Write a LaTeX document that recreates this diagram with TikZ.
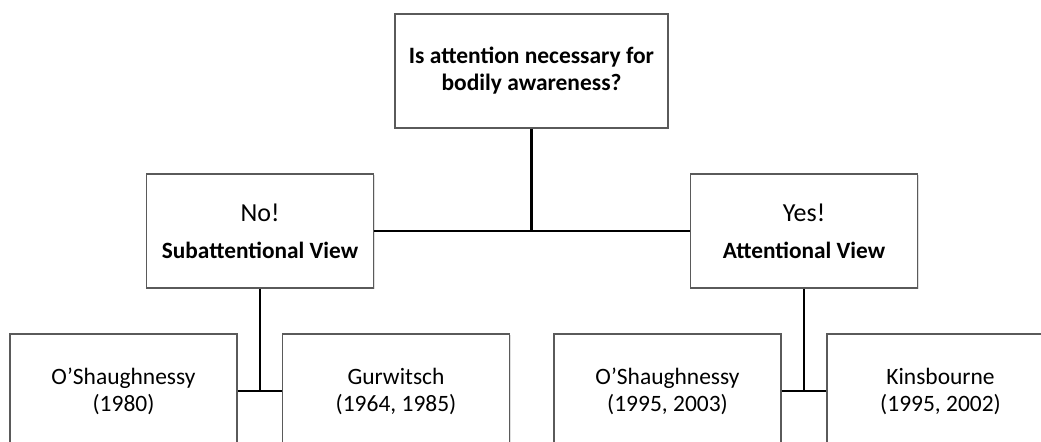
\documentclass[tikz,border=0pt]{standalone}
\usepackage{fontspec}
\setmainfont{Carlito}
\usetikzlibrary{shadows}
\definecolor{boxgray}{HTML}{5A5A5A}
\tikzset{
  box/.style={draw=boxgray, line width=1pt, fill=white, inner sep=0pt,
    minimum width=170.25pt, minimum height=85.5pt, align=center,
    drop shadow={opacity=0.25, shadow xshift=1pt, shadow yshift=-1pt}},
  question/.style={box, minimum width=204.75pt,
    font=\fontsize{17.6}{20.25}\selectfont\bfseries},
  answer/.style={box, font=\fontsize{17.5}{27.75}\selectfont\bfseries},
  source/.style={box, font=\fontsize{17.6}{20.25}\selectfont},
  link/.style={line width=2.2pt}
}
\newcommand{\afont}{\fontsize{19.5}{27.75}\mdseries\selectfont}
\begin{document}
\begin{tikzpicture}[x=0.75pt,y=-0.75pt]
      \useasboundingbox (0,0) rectangle (1041,442);
      \clip (0,0) rectangle (1041,442);
      \draw
        (531.5,71) node[question] (question)
          {Is attention necessary for\\ bodily awareness?}
        (260,231) node[answer] (no)
          {{\afont No!}\\ Subattentional View}
        (804,231) node[answer] (yes)
          {{\afont Yes!}\\ Attentional View}
        (123.5,391) node[source] (oshea)
          {O’Shaughnessy\\ (1980)}
        (396,391) node[source] (gurwitsch)
          {Gurwitsch\\ (1964, 1985)}
        (667.5,391) node[source] (osheb)
          {O’Shaughnessy\\ (1995, 2003)}
        (940.5,391) node[source] (kinsbourne)
          {Kinsbourne\\ (1995, 2002)};
      \begin{scope}[link]
        \draw (no) to (yes);
        \draw (question) to (question |- no);
        \draw (oshea) to (gurwitsch);
        \draw (no) to (no |- oshea);
        \draw (osheb) to (kinsbourne);
        \draw (yes) to (yes |- osheb);
      \end{scope}
    \end{tikzpicture}
\end{document}
